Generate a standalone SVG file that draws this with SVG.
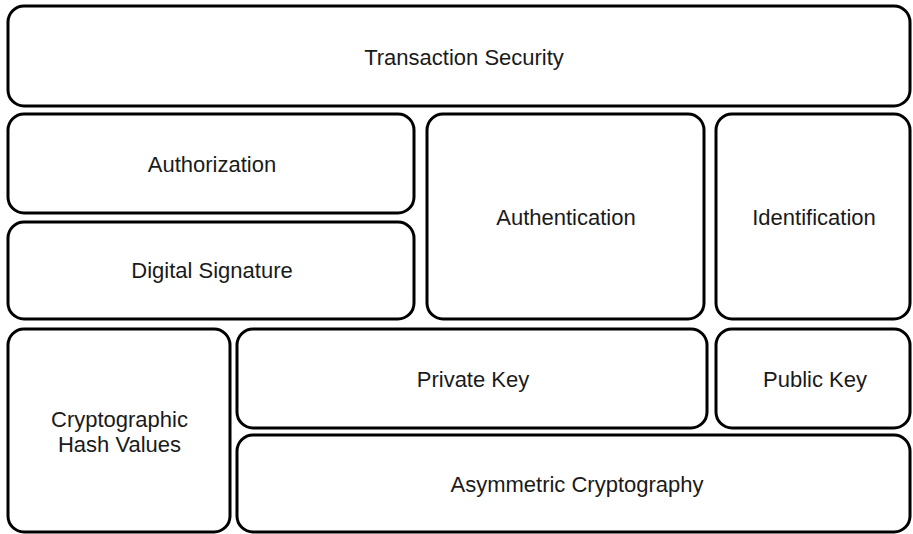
<svg xmlns="http://www.w3.org/2000/svg" width="913" height="534" viewBox="0 0 913 534">
<style>
.box{fill:#fff;stroke:#000;stroke-width:3}
.lbl{font-family:"Liberation Sans",Arial,sans-serif;font-size:22px;fill:#1a1a1a;text-anchor:middle}
</style>
<rect width="913" height="534" fill="#fff"/>
<g id="transaction-security"><rect class="box" x="8" y="6" width="902" height="100" rx="16"/><text class="lbl" x="464" y="65">Transaction Security</text></g>
<g id="authorization"><rect class="box" x="8" y="114" width="406" height="99" rx="16"/><text class="lbl" x="212" y="172">Authorization</text></g>
<g id="digital-signature"><rect class="box" x="8" y="222" width="406" height="97" rx="16"/><text class="lbl" x="212" y="278">Digital Signature</text></g>
<g id="authentication"><rect class="box" x="427" y="114" width="277" height="205" rx="16"/><text class="lbl" x="566" y="225">Authentication</text></g>
<g id="identification"><rect class="box" x="716" y="114" width="194" height="205" rx="16"/><text class="lbl" x="814" y="225">Identification</text></g>
<g id="cryptographic-hash-values"><rect class="box" x="8" y="329" width="222" height="203" rx="16"/><text class="lbl" x="119.5" y="427">Cryptographic</text><text class="lbl" x="119.5" y="452">Hash Values</text></g>
<g id="private-key"><rect class="box" x="237" y="329" width="470" height="99" rx="16"/><text class="lbl" x="473" y="387">Private Key</text></g>
<g id="public-key"><rect class="box" x="716" y="329" width="194" height="99" rx="16"/><text class="lbl" x="815" y="387">Public Key</text></g>
<g id="asymmetric-cryptography"><rect class="box" x="237" y="435" width="673" height="97" rx="16"/><text class="lbl" x="577" y="492">Asymmetric Cryptography</text></g>
<g id="connectors"></g>
</svg>
